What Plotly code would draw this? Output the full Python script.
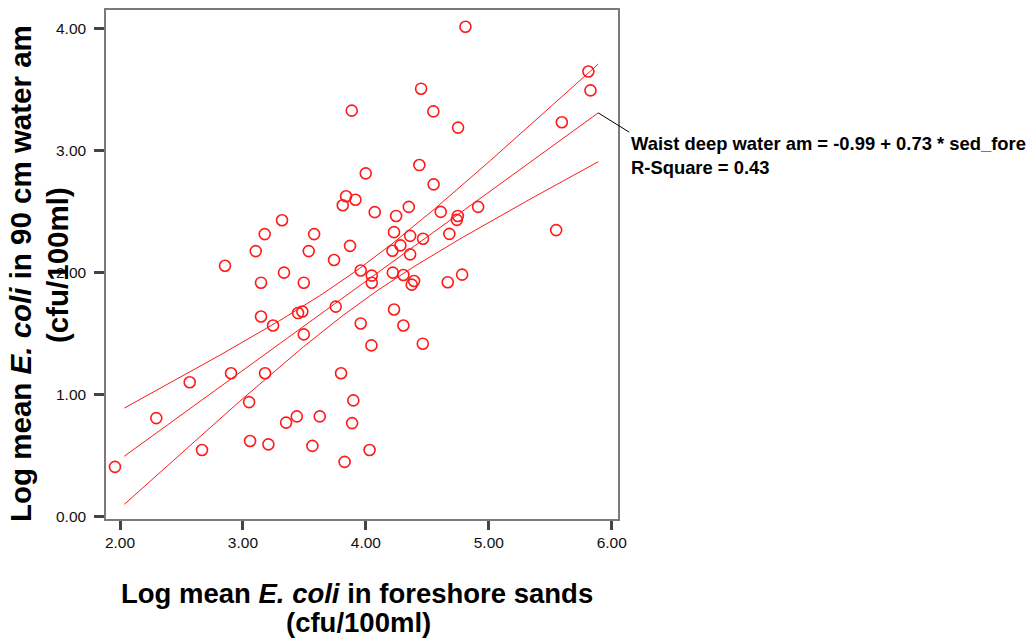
import numpy as np
import plotly.graph_objects as go

# ---- data ----
sand_log = [1.959, 2.295, 2.567, 2.667, 2.854, 2.903, 3.050, 3.058, 3.104, 3.147,
            3.147, 3.177, 3.180, 3.207, 3.245, 3.318, 3.334, 3.351, 3.438, 3.448,
            3.483, 3.495, 3.495, 3.535, 3.565, 3.579, 3.625, 3.741, 3.755, 3.798,
            3.812, 3.827, 3.839, 3.871, 3.885, 3.888, 3.898, 3.915, 3.958, 3.958,
            3.999, 4.030, 4.045, 4.048, 4.048, 4.072, 4.229, 4.216, 4.219, 4.229,
            4.246, 4.281, 4.305, 4.305, 4.349, 4.360, 4.360, 4.373, 4.392, 4.435,
            4.465, 4.449, 4.463, 4.551, 4.549, 4.609, 4.666, 4.679, 4.740, 4.748,
            4.750, 4.783, 4.810, 4.913, 5.548, 5.594, 5.810, 5.827]
water_log = [0.408, 0.808, 1.102, 0.547, 2.057, 1.176, 0.939, 0.620, 2.177, 1.918,
             1.641, 2.316, 1.176, 0.593, 1.567, 2.430, 2.000, 0.771, 0.822, 1.669,
             1.682, 1.918, 1.494, 2.177, 0.580, 2.316, 0.822, 2.104, 1.722, 1.176,
             2.553, 0.449, 2.626, 2.220, 3.328, 0.767, 0.953, 2.598, 1.584, 2.018,
             2.814, 0.547, 1.404, 1.976, 1.918, 2.496, 2.332, 2.180, 2.000, 1.698,
             2.465, 2.224, 1.981, 1.567, 2.539, 2.302, 2.150, 1.902, 1.932, 2.882,
             2.278, 3.508, 1.418, 2.724, 3.322, 2.498, 1.922, 2.318, 2.433, 2.465,
             3.189, 1.984, 4.016, 2.539, 2.349, 3.233, 3.649, 3.494]

intercept = -0.99
slope = 0.73
r_square = 0.43
fit_x_range = [2.035, 5.89]
t_crit = 1.992

x_ticks = [2, 3, 4, 5, 6]
x_tick_text = ["2.00", "3.00", "4.00", "5.00", "6.00"]
y_ticks = [0, 1, 2, 3, 4]
y_tick_text = ["0.00", "1.00", "2.00", "3.00", "4.00"]

# ---- fit line and 95% CI of the mean ----
xs = np.array(sand_log)
ys = np.array(water_log)
n = len(xs)
resid = ys - (intercept + slope * xs)
s = np.sqrt(np.sum(resid ** 2) / (n - 2))
xbar = xs.mean()
sxx = np.sum((xs - xbar) ** 2)
xl = np.linspace(fit_x_range[0], fit_x_range[1], 120)
yl = intercept + slope * xl
half = t_crit * s * np.sqrt(1.0 / n + (xl - xbar) ** 2 / sxx)

RED = "rgb(255,25,25)"
FONT = "Liberation Sans, Arial, sans-serif"

fig = go.Figure()
for yy in (yl + half, yl, yl - half):
    fig.add_trace(go.Scatter(x=xl, y=yy, mode="lines",
                             line=dict(color=RED, width=1), hoverinfo="skip",
                             showlegend=False))
fig.add_trace(go.Scatter(x=sand_log, y=water_log, mode="markers",
                         marker=dict(symbol="circle-open", size=11, color=RED,
                                     line=dict(width=1.6, color=RED)),
                         showlegend=False))

xr = [1.886, 6.051]
yr = [-0.019, 4.153]

def to_paper(x, y):
    return (x - xr[0]) / (xr[1] - xr[0]), (y - yr[0]) / (yr[1] - yr[0])

sx, sy = to_paper(fit_x_range[1], intercept + slope * fit_x_range[1])
fig.add_shape(type="line", xref="paper", yref="paper", x0=sx, y0=sy,
              x1=1.022, y1=0.760, line=dict(color="black", width=1))

fig.add_annotation(xref="paper", yref="paper", x=1.021, y=0.738,
                   xanchor="left", yanchor="middle", showarrow=False,
                   text=f"<b>Waist deep water am = {intercept:.2f} + {slope:.2f} * sed_fore</b>",
                   font=dict(family=FONT, size=18.4, color="black"))
fig.add_annotation(xref="paper", yref="paper", x=1.021, y=0.690,
                   xanchor="left", yanchor="middle", showarrow=False,
                   text=f"<b>R-Square = {r_square:.2f}</b>",
                   font=dict(family=FONT, size=18.4, color="black"))

# axis titles
fig.add_annotation(xref="paper", yref="paper", x=0.491, y=-0.1468,
                   xanchor="center", yanchor="middle", showarrow=False,
                   text="<b>Log mean <i>E. coli</i> in foreshore sands</b>",
                   font=dict(family=FONT, size=27.5, color="black"))
fig.add_annotation(xref="paper", yref="paper", x=0.494, y=-0.2035,
                   xanchor="center", yanchor="middle", showarrow=False,
                   text="<b>(cfu/100ml)</b>",
                   font=dict(family=FONT, size=27.5, color="black"))
fig.add_annotation(xref="paper", yref="paper", x=-0.167, y=0.4824,
                   xanchor="center", yanchor="middle", showarrow=False, textangle=-90,
                   text="<b>Log mean <i>E. coli</i> in 90 cm water am</b>",
                   font=dict(family=FONT, size=29.5, color="black"))
fig.add_annotation(xref="paper", yref="paper", x=-0.0957, y=0.499,
                   xanchor="center", yanchor="middle", showarrow=False, textangle=-90,
                   text="<b>(cfu/100ml)</b>",
                   font=dict(family=FONT, size=29.5, color="black"))

axis_common = dict(showgrid=False, zeroline=False, showline=True, mirror=True,
                   linecolor="#7a7a7a", linewidth=1.5, ticks="outside",
                   tickcolor="#444444", tickwidth=3,
                   tickfont=dict(family=FONT, size=15.5, color="#111111"))
fig.update_xaxes(range=xr, tickvals=x_ticks, ticktext=x_tick_text, ticklen=9,
                 ticklabelstandoff=0, **axis_common)
fig.update_yaxes(range=yr, tickvals=y_ticks, ticktext=y_tick_text, ticklen=10,
                 ticklabelstandoff=5, **axis_common)

fig.update_layout(width=1033, height=639, plot_bgcolor="white", paper_bgcolor="white",
                  margin=dict(l=106, r=415, t=8, b=120), showlegend=False)

fig.write_html("out.html")
